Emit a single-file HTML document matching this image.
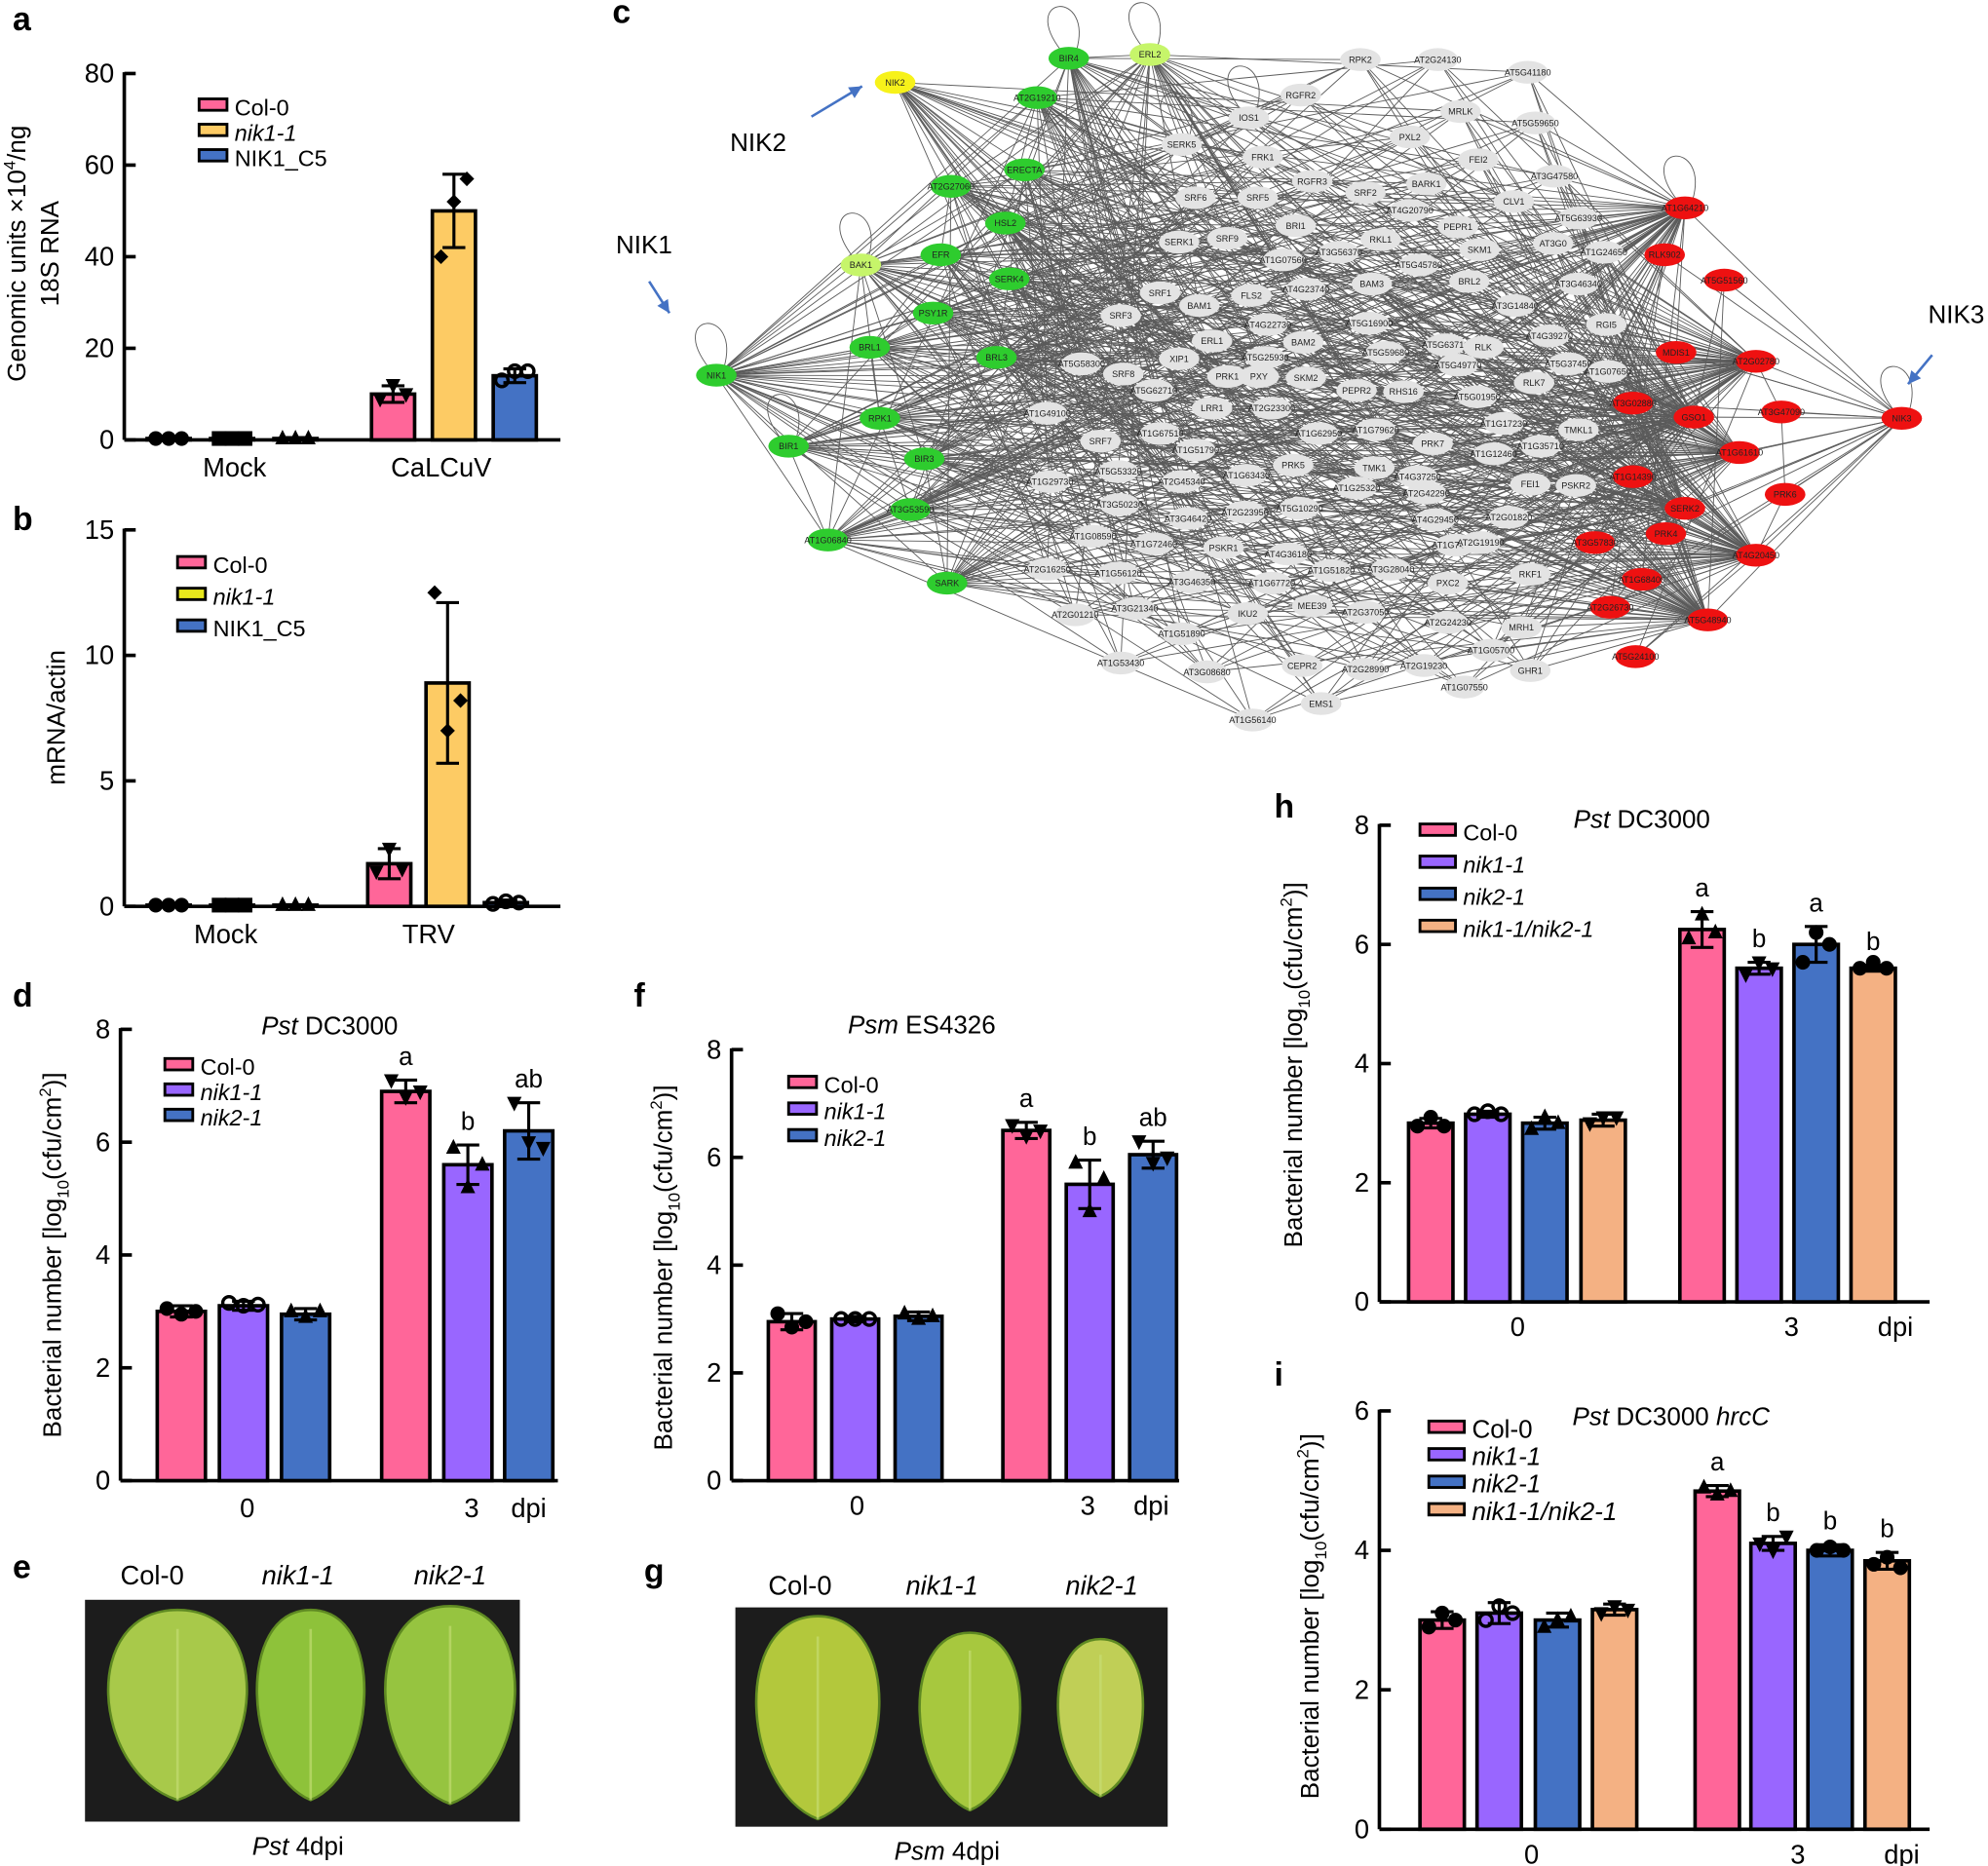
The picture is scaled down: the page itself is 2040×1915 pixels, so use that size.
<!DOCTYPE html>
<html><head><meta charset="utf-8">
<style>
html,body{margin:0;padding:0;background:#fff;}
svg{display:block;font-family:"Liberation Sans",Arial,sans-serif;}
</style></head>
<body>
<svg id="fig" width="2040" height="1915" viewBox="0 0 1568 1472">
<g id="net"></g>
<g id="charts"></g>
<g id="photos"></g>
</svg>
<script>
// ---------- chart data ----------
const aCats=["Mock","CaLCuV"];
const aSeries=["Col-0","nik1-1","NIK1_C5"];
const aMeans=[0.3,0.3,0.3,10,50,14];
const aErr=[0.2,0.2,0.2,1.8,8,1.5];
const aPts=[[0.3,0.3,0.3],[0.3,0.3,0.3],[0.3,0.3,0.3],[9,12,10],[40,52,57],[13,15,15]];
const aTicks=[0,20,40,60,80];

const bCats=["Mock","TRV"];
const bSeries=["Col-0","nik1-1","NIK1_C5"];
const bMeans=[0.05,0.05,0.05,1.7,8.9,0.15];
const bErr=[0.02,0.02,0.02,0.6,3.2,0.1];
const bPts=[[0.05,0.05,0.05],[0.05,0.05,0.05],[0.05,0.05,0.05],[1.4,2.3,1.5],[12.5,7,8.2],[0.1,0.2,0.15]];
const bTicks=[0,5,10,15];

const dSeries=["Col-0","nik1-1","nik2-1"];
const dMeans=[3.0,3.1,2.95,6.9,5.6,6.2];
const dErr=[0.1,0.08,0.1,0.2,0.35,0.5];
const dPts=[[3.05,2.95,3.0],[3.15,3.1,3.12],[3.0,2.9,3.0],[7.1,6.8,6.9],[5.9,5.2,5.6],[6.7,6.0,5.9]];
const dLetters=["","","","a","b","ab"];
const dTicks=[0,2,4,6,8];

const fSeries=["Col-0","nik1-1","nik2-1"];
const fMeans=[2.95,3.0,3.05,6.5,5.5,6.05];
const fErr=[0.15,0.05,0.08,0.15,0.45,0.25];
const fPts=[[3.1,2.85,2.95],[3.0,3.0,3.0],[3.1,3.0,3.05],[6.6,6.4,6.5],[5.9,5.0,5.6],[6.3,5.9,6.0]];
const fLetters=["","","","a","b","ab"];
const fTicks=[0,2,4,6,8];

const hSeries=["Col-0","nik1-1","nik2-1","nik1-1/nik2-1"];
const hMeans=[3.0,3.15,3.0,3.05,6.25,5.6,6.0,5.6];
const hErr=[0.08,0.05,0.1,0.1,0.3,0.1,0.3,0.05];
const hPts=[[2.95,3.1,2.95],[3.15,3.2,3.15],[2.9,3.1,3.0],[3.0,3.1,3.1],[6.1,6.5,6.2],[5.5,5.7,5.6],[5.7,6.2,6.0],[5.6,5.7,5.6]];
const hLetters=["","","","","a","b","a","b"];
const hTicks=[0,2,4,6,8];

const iSeries=["Col-0","nik1-1","nik2-1","nik1-1/nik2-1"];
const iMeans=[3.0,3.1,3.0,3.15,4.85,4.1,4.0,3.85];
const iErr=[0.12,0.15,0.1,0.08,0.08,0.1,0.08,0.12];
const iPts=[[2.9,3.1,3.0],[3.0,3.2,3.1],[2.9,3.0,3.05],[3.1,3.2,3.15],[4.9,4.8,4.85],[4.1,4.0,4.2],[4.0,4.05,4.0],[3.8,3.9,3.75]];
const iLetters=["","","","","a","b","b","b"];
const iTicks=[0,2,4,6];

const NS="http://www.w3.org/2000/svg";
function mk(parent,tag,attrs,text){const e=document.createElementNS(NS,tag);for(const k in attrs)e.setAttribute(k,attrs[k]);if(text!==undefined)e.textContent=text;parent.appendChild(e);return e;}

const PINK="#ff6699",YEL="#fdcb64",BLUE="#4472c4",PURP="#9966ff",PEACH="#f4b183",BYEL="#e8e81c";

function marker(g,shape,x,y,r){
  let e;
  if(shape==="circle") e=mk(g,"circle",{cx:x,cy:y,r:r,fill:"#000"});
  else if(shape==="ocircle") e=mk(g,"circle",{cx:x,cy:y,r:r*0.85,fill:"none",stroke:"#000","stroke-width":2.6});
  else if(shape==="square") e=mk(g,"rect",{x:x-r,y:y-r,width:2*r,height:2*r,fill:"#000"});
  else if(shape==="tri") e=mk(g,"polygon",{points:`${x},${y-r*1.2} ${x-r},${y+r*0.8} ${x+r},${y+r*0.8}`,fill:"#000"});
  else if(shape==="dtri") e=mk(g,"polygon",{points:`${x},${y+r*1.2} ${x-r},${y-r*0.8} ${x+r},${y-r*0.8}`,fill:"#000"});
  else e=mk(g,"polygon",{points:`${x},${y-r} ${x+r},${y} ${x},${y+r} ${x-r},${y}`,fill:"#000"});
  
  
}

function chart(o){
  const g=mk(document.getElementById("charts"),"g",{});
  
  
  const ys=v=>o.y0-(v/o.max)*(o.y0-o.y1);
  const ya=mk(g,"line",{x1:o.ax,y1:o.y1-1,x2:o.ax,y2:o.y0,stroke:"#000","stroke-width":2.8});
  
  const xa=mk(g,"line",{x1:o.ax,y1:o.y0,x2:o.xEnd,y2:o.y0,stroke:"#000","stroke-width":2.8});
  
  o.ticks.forEach(t=>{
    const y=ys(t);
    mk(g,"line",{x1:o.ax,y1:y,x2:o.ax+9,y2:y,stroke:"#000","stroke-width":2.8});
    const tl=mk(g,"text",{x:o.ax-8,y:y+7,"text-anchor":"end","font-size":o.tfs||21},String(t));
    
  });
  o.means.forEach((m,i)=>{
    const x=o.barX[i],w=o.bw,col=o.colors[i%o.colors.length];
    const r=mk(g,"rect",{x:x,y:ys(m),width:w,height:o.y0-ys(m),fill:col,stroke:"#000","stroke-width":2.8});
    
    
    const cx=x+w/2;
    const e1=ys(m+o.err[i]),e2=ys(Math.max(0,m-o.err[i]));
    mk(g,"line",{x1:cx,y1:e1,x2:cx,y2:e2,stroke:"#000","stroke-width":2.4});
    mk(g,"line",{x1:cx-9,y1:e1,x2:cx+9,y2:e1,stroke:"#000","stroke-width":2.4});
    mk(g,"line",{x1:cx-9,y1:e2,x2:cx+9,y2:e2,stroke:"#000","stroke-width":2.4});
    const sh=o.shapes[i];
    o.pts[i].forEach((p,k)=>marker(g,sh,cx+(k-1)*w*0.3,ys(p),5.8));
    if(o.letters&&o.letters[i]){
      const lt=mk(g,"text",{x:cx,y:ys(m+o.err[i])-12,"text-anchor":"middle","font-size":20},o.letters[i]);
      
    }
  });
  o.xlabels.forEach(l=>{
    const t=mk(g,"text",{x:l[1],y:l[2],"text-anchor":"middle","font-size":o.xfs||21},l[0]);
    
  });
  o.series.forEach((s,i)=>{
    const ly=o.leg[1]+i*o.leg[2];
    const lr=mk(g,"rect",{x:o.leg[0],y:ly-7,width:o.legW||22,height:9,fill:o.legColors?o.legColors[i]:o.colors[i],stroke:"#000","stroke-width":2.2});
    
    const it=(s!=="Col-0"&&s!=="NIK1_C5");
    const lt=mk(g,"text",{x:o.leg[0]+(o.legW||22)+6,y:ly+6,"font-size":o.lfs||18,"font-style":it?"italic":"normal"},s);
    
  });
  o.ytitle.forEach((t,k)=>{
    const tx=mk(g,"text",{transform:`translate(${o.ytx+k*26},${o.yty}) rotate(-90)`,"text-anchor":"middle","font-size":o.yfs||20});
    
    tx.innerHTML=t;
  });
  if(o.title){const tt=mk(g,"text",{x:o.title[1],y:o.title[2],"text-anchor":"middle","font-size":20});tt.innerHTML=o.title[0];
    }
}
const bac=['Bacterial number [log<tspan font-size="13" dy="6">10</tspan><tspan dy="-6">(cfu/cm</tspan><tspan font-size="13" dy="-8">2</tspan><tspan dy="8">)]</tspan>'];

chart({name:"chart-a",ax:98,y0:347,y1:58,max:80,xEnd:442,ticks:aTicks,means:aMeans,err:aErr,pts:aPts,
 barX:[116,166,216,293,341,389],bw:34,colors:[PINK,YEL,BLUE],series:aSeries,
 shapes:["circle","square","tri","dtri","diamond","ocircle"],
 xlabels:[["Mock",185,376],["CaLCuV",348,376]],leg:[157,85,20],ytitle:['Genomic units ×10<tspan font-size="13" dy="-8">4</tspan><tspan dy="8">/ng</tspan>','18S RNA'],ytx:20,yty:200});
chart({name:"chart-b",ax:98,y0:715,y1:418,max:15,xEnd:442,ticks:bTicks,means:bMeans,err:bErr,pts:bPts,
 barX:[116,166,216,290,336,382],bw:34,colors:[PINK,YEL,BLUE],legColors:[PINK,BYEL,BLUE],series:bSeries,
 shapes:["circle","square","tri","dtri","diamond","ocircle"],
 xlabels:[["Mock",178,744],["TRV",338,744]],leg:[140,446,25],ytitle:['mRNA/actin'],ytx:51,yty:566});
chart({name:"chart-d",ax:95,y0:1168,y1:812,max:8,xEnd:440,ticks:dTicks,means:dMeans,err:dErr,pts:dPts,letters:dLetters,
 barX:[124,173,222,301,350,398],bw:38,colors:[PINK,PURP,BLUE],series:dSeries,
 shapes:["circle","ocircle","tri","dtri","tri","dtri"],
 xlabels:[["0",195,1197],["3",372,1197],["dpi",417,1197]],leg:[130,842,20],ytitle:bac,ytx:48,yty:990,title:['<tspan font-style="italic">Pst</tspan> DC3000',260,816]});
chart({name:"chart-f",ax:577,y0:1168,y1:828,max:8,xEnd:930,ticks:fTicks,means:fMeans,err:fErr,pts:fPts,letters:fLetters,
 barX:[606,656,706,791,841,891],bw:37,colors:[PINK,PURP,BLUE],series:fSeries,
 shapes:["circle","ocircle","tri","dtri","tri","dtri"],
 xlabels:[["0",676,1195],["3",858,1195],["dpi",908,1195]],leg:[622,856,21],ytitle:bac,ytx:530,yty:1000,title:['<tspan font-style="italic">Psm</tspan> ES4326',727,815]});
chart({name:"chart-h",ax:1088,y0:1027,y1:651,max:8,xEnd:1522,ticks:hTicks,means:hMeans,err:hErr,pts:hPts,letters:hLetters,
 barX:[1111,1156,1201,1247,1325,1370,1415,1460],bw:35,colors:[PINK,PURP,BLUE,PEACH],series:hSeries,
 shapes:["circle","ocircle","tri","dtri","tri","dtri","circle","circle"],
 xlabels:[["0",1197,1054],["3",1413,1054],["dpi",1495,1054]],leg:[1120,657,25.3],legW:28,ytitle:bac,ytx:1027,yty:840,title:['<tspan font-style="italic">Pst</tspan> DC3000',1295,653]});
chart({name:"chart-i",ax:1088,y0:1443,y1:1113,max:6,xEnd:1522,ticks:iTicks,means:iMeans,err:iErr,pts:iPts,letters:iLetters,
 barX:[1120,1165,1211,1256,1337,1381,1426,1471],bw:35,colors:[PINK,PURP,BLUE,PEACH],series:iSeries,
 shapes:["circle","ocircle","tri","dtri","tri","dtri","circle","circle"],
 xlabels:[["0",1208,1470],["3",1418,1470],["dpi",1500,1470]],leg:[1127,1128,21.7],legW:28,lfs:20,ytitle:bac,ytx:1040,yty:1275,title:['<tspan font-style="italic">Pst</tspan> DC3000 <tspan font-style="italic">hrcC</tspan>',1318,1124]});

[["a",10,24],["b",10,418],["c",483,18],["d",10,794],["e",10,1245],["f",500,794],["g",508,1248],["h",1005,645],["i",1005,1093]].forEach(p=>{
 const t=mk(document.getElementById("fig"),"text",{x:p[1],y:p[2],"font-size":26,"font-weight":"bold"},p[0]);
 
});

(function(){
 const P=document.getElementById("photos");
 function photo(x,y,w,h,labels,lx,ly,cap,capx,capy,leaves){
  const r=mk(P,"rect",{x:x,y:y,width:w,height:h,fill:"#1c1c1c"});
  
  leaves.forEach(l=>{
   mk(P,"path",{d:`M${l[0]},${l[1]-l[3]} C${l[0]+l[2]*1.25},${l[1]-l[3]} ${l[0]+l[2]*1.1},${l[1]+l[3]*0.7} ${l[0]},${l[1]+l[3]} C${l[0]-l[2]*1.1},${l[1]+l[3]*0.7} ${l[0]-l[2]*1.25},${l[1]-l[3]} ${l[0]},${l[1]-l[3]}Z`,fill:l[4],stroke:"#5f8a22","stroke-width":2});
   mk(P,"line",{x1:l[0],y1:l[1]-l[3]*0.8,x2:l[0],y2:l[1]+l[3],stroke:"#c9e07a","stroke-width":2,opacity:0.6});
  });
  labels.forEach((t,i)=>{const e=mk(P,"text",{x:lx[i],y:ly,"text-anchor":"middle","font-size":21,"font-style":i?"italic":"normal"},t);
   });
  const c=mk(P,"text",{x:capx,y:capy,"text-anchor":"middle","font-size":20});c.innerHTML=cap;
  
 }
 photo(67,1262,343,175,["Col-0","nik1-1","nik2-1"],[120,235,355],1250,'<tspan font-style="italic">Pst</tspan> 4dpi',235,1463,
   [[140,1345,62,75,"#a8c94a"],[245,1345,48,75,"#8ec23a"],[355,1345,58,78,"#96c440"]]);
 photo(580,1268,341,173,["Col-0","nik1-1","nik2-1"],[631,743,869],1258,'<tspan font-style="italic">Psm</tspan> 4dpi',747,1467,
   [[645,1355,55,80,"#b3c83c"],[765,1358,45,70,"#a7c83e"],[868,1355,38,62,"#c0cf56"]]);
})();

(function(){
 const N=document.getElementById("net");
 const green=[["BIR4",843,46],["AT2G19210",818,77],["AT2G27060",750,147],["ERECTA",808,134],["HSL2",793,176],["EFR",742,201],["SERK4",796,220],["PSY1R",736,247],["BRL1",686,274],["BRL3",786,282],["NIK1",565,296],["RPK1",694,330],["BIR1",622,352],["BIR3",729,362],["AT3G53590",718,402],["AT1G06840",653,426],["SARK",747,460]];
 const lgreen=[["ERL2",907,43],["BAK1",679,209]];
 const yellow=[["NIK2",706,65]];
 const red=[["AT1G64210",1329,164],["RLK902",1313,201],["AT5G51560",1360,221],["AT2G02780",1385,285],["MDIS1",1322,278],["AT3G02880",1288,318],["GSO1",1336,329],["AT3G47090",1405,325],["NIK3",1500,330],["AT1G61610",1372,357],["AT1G14390",1288,376],["PRK6",1408,390],["SERK2",1329,401],["PRK4",1314,421],["AT3G57830",1258,428],["AT4G20450",1385,438],["AT1G68400",1295,457],["AT2G26730",1270,479],["AT5G48940",1347,489],["AT5G24100",1290,518]];
 const grey=[["RPK2",1073,47],["AT2G24130",1134,47],["AT5G41180",1205,57],["RGFR2",1026,75],["MRLK",1152,88],["IOS1",985,93],["AT5G59650",1211,97],["PXL2",1112,108],["SERK5",932,114],["FRK1",996,124],["FEI2",1166,126],["AT3G47580",1226,139],["RGFR3",1035,143],["BARK1",1125,145],["SRF6",943,156],["SRF5",992,156],["SRF2",1077,152],["CLV1",1194,159],["AT4G20790",1112,166],["PEPR1",1150,179],["AT5G63930",1245,172],["SRF9",968,188],["BRI1",1022,178],["SERK1",930,191],["RKL1",1089,189],["SKM1",1167,197],["AT3G0",1225,192],["AT1G07560",1012,205],["AT3G56370",1056,199],["AT5G45780",1119,209],["AT1G24650",1265,199],["SRF1",915,231],["FLS2",987,233],["AT4G23740",1030,228],["BAM3",1082,224],["BRL2",1159,222],["AT3G46340",1245,224],["BAM1",946,241],["SRF3",884,249],["AT3G14840",1195,241],["AT4G22730",1000,256],["AT5G16900",1080,255],["RGI5",1267,256],["ERL1",956,269],["BAM2",1028,270],["AT5G63710",1140,272],["RLK",1170,274],["AT4G39270",1222,265],["AT5G58300",853,287],["XIP1",930,283],["AT5G25930",998,282],["AT5G59680",1093,278],["AT5G49770",1150,288],["AT5G37450",1237,287],["SRF8",886,295],["PRK1",968,297],["PXY",993,297],["SKM2",1030,298],["AT1G07650",1268,293],["RLK7",1210,302],["AT5G62710",910,308],["PEPR2",1070,308],["RHS16",1107,309],["AT5G01950",1165,313],["LRR1",956,322],["AT2G23300",1003,322],["AT1G49100",826,326],["AT1G17230",1186,334],["TMKL1",1245,339],["AT1G67510",915,342],["AT1G62950",1040,342],["AT1G79620",1085,339],["PRK7",1130,350],["AT1G12460",1178,358],["SRF7",868,348],["AT1G51790",943,355],["AT1G35710",1215,352],["AT5G53320",882,372],["PRK5",1020,367],["TMK1",1084,369],["AT2G45340",932,380],["AT1G63430",983,375],["AT4G37250",1118,376],["AT1G29730",828,380],["AT1G25320",1070,385],["AT2G42290",1125,389],["FEI1",1207,382],["PSKR2",1243,383],["AT3G50230",883,398],["AT5G10290",1025,401],["AT2G23950",982,404],["AT3G46420",937,409],["AT4G29450",1132,410],["AT2G01820",1190,408],["AT1G08590",862,423],["AT1G72460",910,429],["PSKR1",965,432],["AT1G74360",1148,430],["AT2G19190",1168,428],["AT4G36180",1016,437],["AT2G16250",826,449],["AT1G56120",882,452],["AT1G51820",1050,450],["AT3G28040",1097,449],["RKF1",1207,453],["AT3G46350",940,459],["AT1G67720",1003,460],["PXC2",1142,460],["AT3G21340",895,480],["IKU2",984,484],["MEE39",1035,478],["AT2G37050",1077,483],["AT2G01210",848,485],["AT2G24230",1142,491],["MRH1",1200,495],["AT1G51890",932,500],["AT1G05700",1176,513],["AT1G53430",884,523],["AT3G08680",952,530],["CEPR2",1027,525],["AT2G28990",1077,528],["AT2G19230",1123,525],["GHR1",1207,529],["AT1G07550",1155,542],["EMS1",1042,555],["AT1G56140",988,568]];
 const eg=mk(N,"g",{stroke:"#333","stroke-width":0.7,opacity:0.8});
 
 const L=(a,b)=>mk(eg,"line",{x1:a[1],y1:a[2],x2:b[1],y2:b[2]});
 const hubs=green.concat(lgreen,yellow);
 hubs.forEach((h,i)=>grey.forEach((n,j)=>{if((i*7+j*3)%5===0)L(h,n);}));
 red.forEach((h,i)=>grey.forEach((n,j)=>{if((i*5+j*3)%6===0)L(h,n);}));
 green.forEach(n=>{if(n[0]!=="NIK1")L(green[10],n);});
 red.forEach(n=>{if(n[0]!=="NIK3")L(red[8],n);});
 green.forEach((n,i)=>{L(n,green[(i+3)%green.length]);L(n,lgreen[i%2]);});
 red.forEach((n,i)=>L(n,red[(i+4)%red.length]));
 [green[0],lgreen[0],lgreen[1],green[10],green[12],grey[5],grey[8],red[0],red[8]].forEach(n=>{
  mk(eg,"path",{d:`M${n[1]-6},${n[2]-6} C${n[1]-40},${n[2]-50} ${n[1]+20},${n[2]-55} ${n[1]+6},${n[2]-6}`,fill:"none"});
 });
 function node(n,fill,tc){
  const g=mk(N,"g",{});
  
  
  mk(g,"ellipse",{cx:n[1],cy:n[2],rx:16,ry:9,fill:fill});
  mk(g,"text",{x:n[1],y:n[2]+2.5,"text-anchor":"middle","font-size":7,fill:tc||"#222"},n[0]);
 }
 grey.forEach(n=>node(n,"#e3e3e3"));
 green.forEach(n=>node(n,"#2ecc2e"));
 lgreen.forEach(n=>node(n,"#c6f56a"));
 yellow.forEach(n=>node(n,"#f7f21a"));
 red.forEach(n=>node(n,"#ee1111"));
 const cg=mk(N,"g",{});
 
 [["NIK2",598,119,640,92,680,68],["NIK1",508,200,512,222,528,247],["NIK3",1543,255,1524,280,1505,303]].forEach(c=>{
  mk(cg,"text",{x:c[1],y:c[2],"text-anchor":"middle","font-size":20},c[0]);
  mk(cg,"line",{x1:c[3],y1:c[4],x2:c[5],y2:c[6],stroke:"#4472c4","stroke-width":2});
  const dx=c[5]-c[3],dy=c[6]-c[4],l=Math.hypot(dx,dy),ux=dx/l,uy=dy/l;
  mk(cg,"polygon",{points:`${c[5]},${c[6]} ${c[5]-ux*10-uy*5},${c[6]-uy*10+ux*5} ${c[5]-ux*10+uy*5},${c[6]-uy*10-ux*5}`,fill:"#4472c4"});
 });
})();
</script>
</body></html>
